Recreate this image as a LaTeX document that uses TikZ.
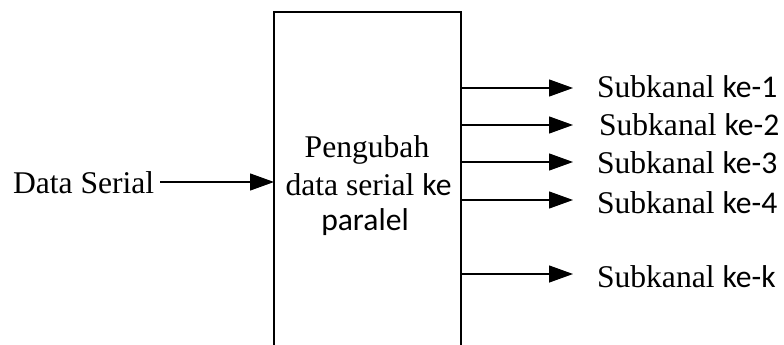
\documentclass[tikz,border=0pt]{standalone}
\usepackage{fontspec}
\setmainfont{Liberation Serif}
\newfontfamily\calib{Carlito}
\usetikzlibrary{arrows.meta}
\begin{document}
\begin{tikzpicture}[x=1pt,y=-1pt,
  every node/.style={inner sep=0pt,outer sep=0pt,font=\fontsize{31.6}{38}\selectfont},
  blockbox/.style={draw,line width=1.5pt,minimum width=187pt,minimum height=388pt},
  arr/.style={line width=1.3pt,-{Triangle[length=24pt,width=17pt]}},
  lbl/.style={anchor=base west}]
\useasboundingbox (0,0) rectangle (784,345);
\clip (0,0) rectangle (784,345);

% converter block (open towards the bottom of the page)
\node[blockbox] (conv) at (367.5,206) {};
\node[anchor=base] (t1) at (367,157) {Pengubah};
\node[anchor=base] (t2) at (368.5,195) {data serial {\calib ke}};
\node[anchor=base] (t3) at (365,230) {\calib paralel};

% serial input
\node[anchor=base west] (din) at (13,193) {Data Serial};
\coordinate (in) at (160,182);
\draw[arr] (in) -- (in -| conv.west);

% parallel outputs
\foreach \i/\y/\b/\lx/\t in {1/88/97/597/1, 2/125/135/599/2, 3/162/173/597/3, 4/200/213/597/4, k/274/287/597/k}{
  \coordinate (o\i) at (573,\y);
  \draw[arr] (o\i -| conv.east) -- (o\i);
  \node[lbl] (s\i) at (\lx,\b) {Subkanal {\calib ke-\t}};
}
\end{tikzpicture}
\end{document}
